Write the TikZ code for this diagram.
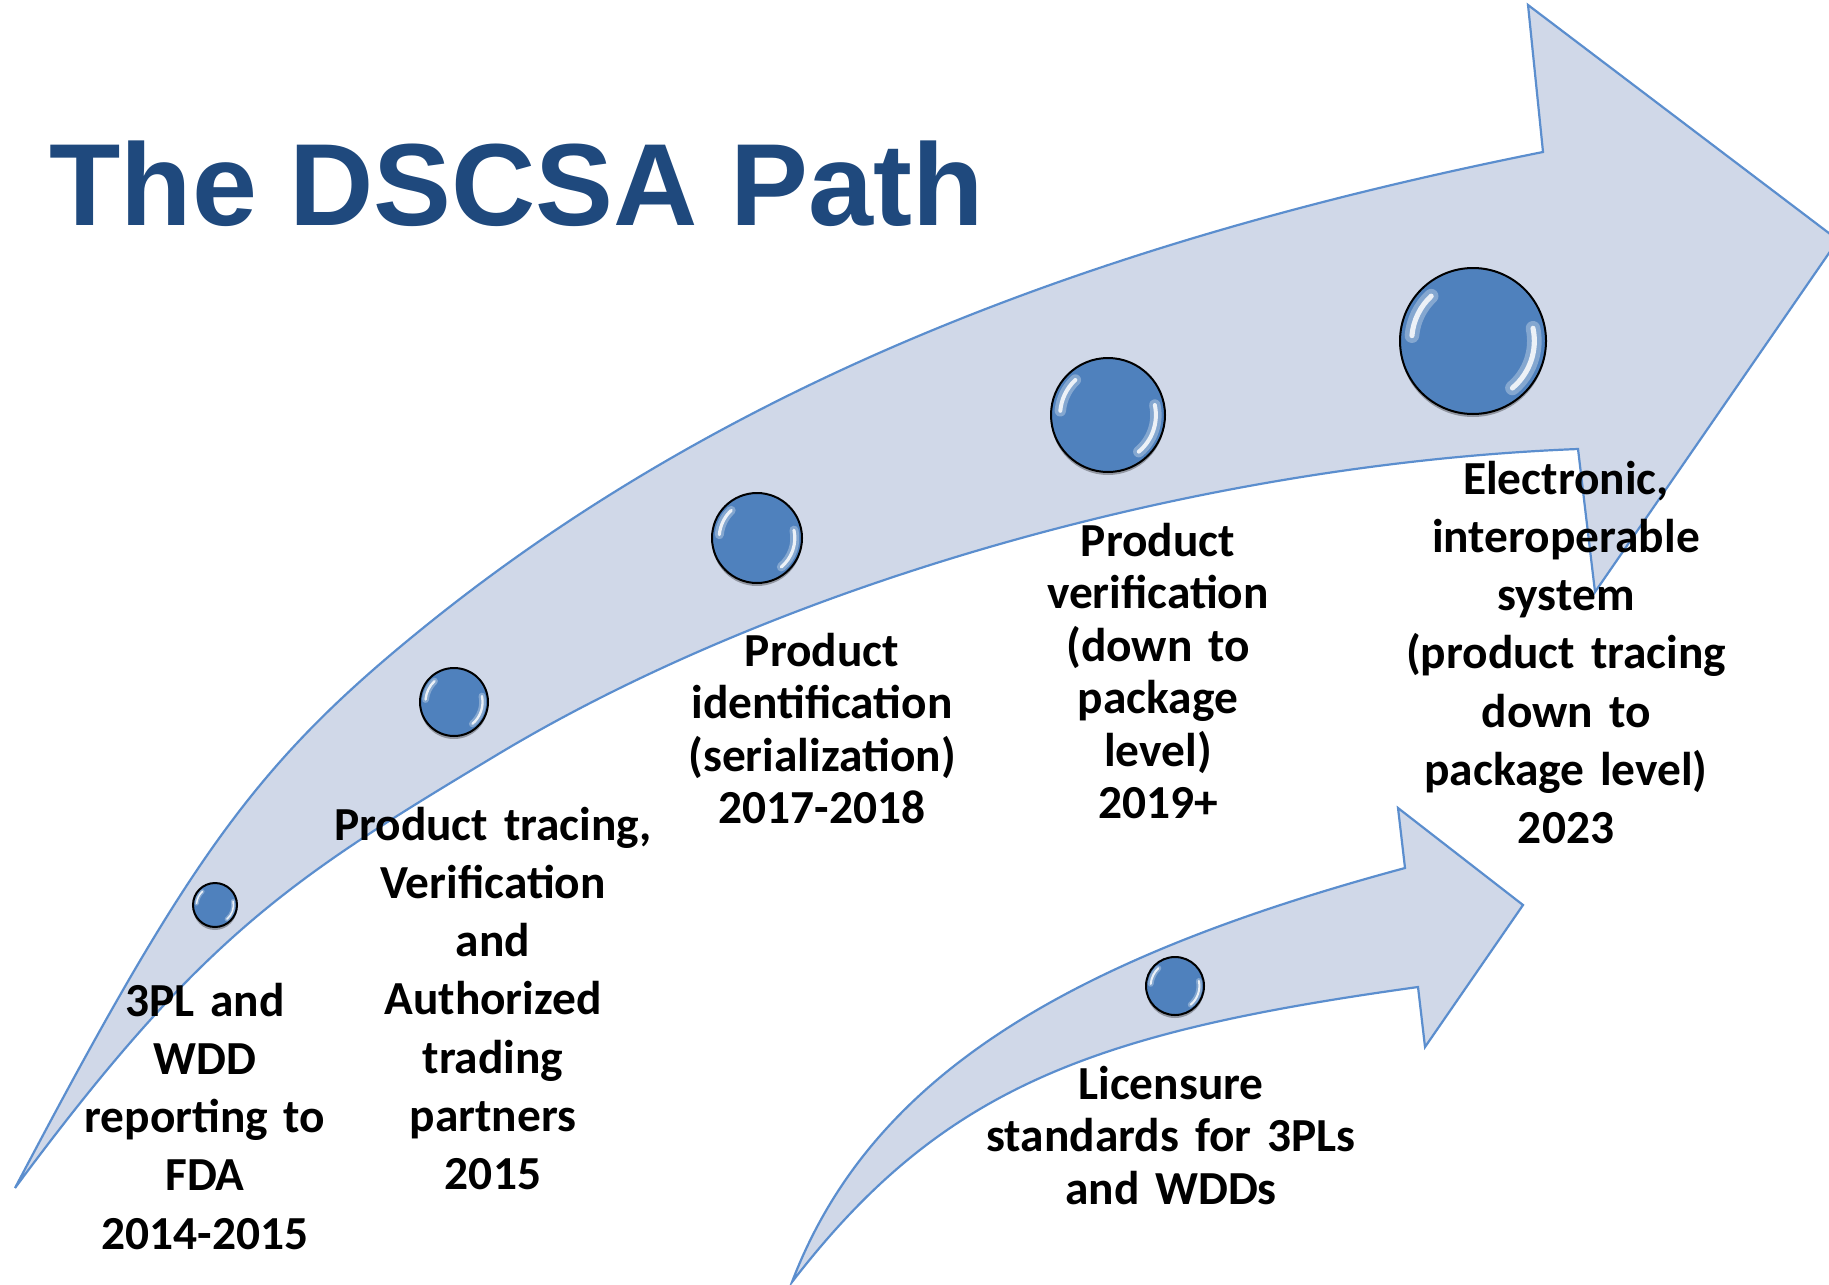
\documentclass[tikz,border=0pt]{standalone}
\usepackage{fontspec}
\setmainfont{Carlito}
\newfontfamily\titlefont{Liberation Sans}
\usetikzlibrary{calc,shadows}
\definecolor{arrowfill}{RGB}{208,216,232}
\definecolor{arrowline}{RGB}{91,142,206}
\definecolor{ballblue}{RGB}{79,129,189}
\definecolor{titleblue}{RGB}{31,73,125}

\tikzset{
  arrowbody/.style={fill=arrowfill, draw=arrowline, line width=1.1pt, line join=miter},
  ball/.style={circle, draw=black, line width=1pt, fill=ballblue, inner sep=0pt,
    minimum size={2*#1pt},
    drop shadow={shadow xshift=0pt, shadow yshift=-1.5pt, opacity=0.3, fill=black},
    path picture={
      \foreach \a/\b in {175/133, 12/-50}{
        \draw[white, opacity=0.3, line width={0.2*#1pt}, line cap=round]
          ([shift={(\a:{0.84*#1pt})}]path picture bounding box.center)
          arc[start angle=\a, end angle=\b, radius={0.84*#1pt}];
        \draw[white, opacity=0.85, line width={0.07*#1pt}, line cap=round]
          ([shift={(\a:{0.84*#1pt})}]path picture bounding box.center)
          arc[start angle=\a, end angle=\b, radius={0.84*#1pt}];
      }
    }},
  stage/.style={font=\fontsize{23.7}{29.15}\selectfont\bfseries, align=center,
    text width=200pt, inner sep=0pt, anchor=base},
  stagetight/.style={stage, font=\fontsize{23.7}{26.25}\selectfont\bfseries}
}

\begin{document}
\begin{tikzpicture}[x=0.5pt,y=-0.5pt]
\useasboundingbox (0,0) rectangle (1829,1284);
\clip (0,0) rectangle (1829,1284);

% Title
\node[font=\titlefont\fontsize{58.4}{70}\selectfont\bfseries, text=titleblue,
  anchor=base west, inner sep=0pt] (title) at (49,225) {The DSCSA Path};

% Main path arrow
\draw[arrowbody] (15,1188) .. controls (192,852) and (258,760) .. (433,620)
  .. controls (747,369) and (1128,235) .. (1543,152)
  -- (1528,5) -- (1838,240) -- (1595,592) -- (1578,449)
  .. controls (1195,464) and (779,586) .. (500,753)
  .. controls (292,878) and (203,934) .. cycle;

% Licensure arrow
\draw[arrowbody] (792,1282) .. controls (870,1078) and (1064,960) .. (1405,868)
  -- (1398,808) -- (1523,905) -- (1425,1047) -- (1418,987)
  .. controls (1094,1032) and (943,1086) .. cycle;

% Milestones
\node[ball=11] (b1) at (215,905) {};
\node[ball=17] (b2) at (454,702) {};
\node[ball=22.5] (b3) at (757,538) {};
\node[ball=28.5] (b4) at (1108,415) {};
\node[ball=36.5] (b5) at (1473,341) {};
\node[ball=14.5] (b6) at (1175,986) {};

% Labels
\node[stage] (s1) at (205,1016) {3PL and\\WDD\\reporting to\\FDA\\2014-2015};
\node[stage] (s2) at (493,840) {Product tracing,\\Verification\\and\\Authorized\\trading\\partners\\2015};
\node[stagetight] (s3) at (822,666) {Product\\identification\\(serialization)\\2017-2018};
\node[stagetight] (s4) at (1158,556) {Product\\verification\\(down to\\package\\level)\\2019+};
\node[stage] (s5) at (1566,494) {Electronic,\\interoperable\\system\\(product tracing\\down to\\package level)\\2023};
\node[stagetight] (s6) at (1171,1099) {Licensure\\standards for 3PLs\\and WDDs};
\end{tikzpicture}
\end{document}
